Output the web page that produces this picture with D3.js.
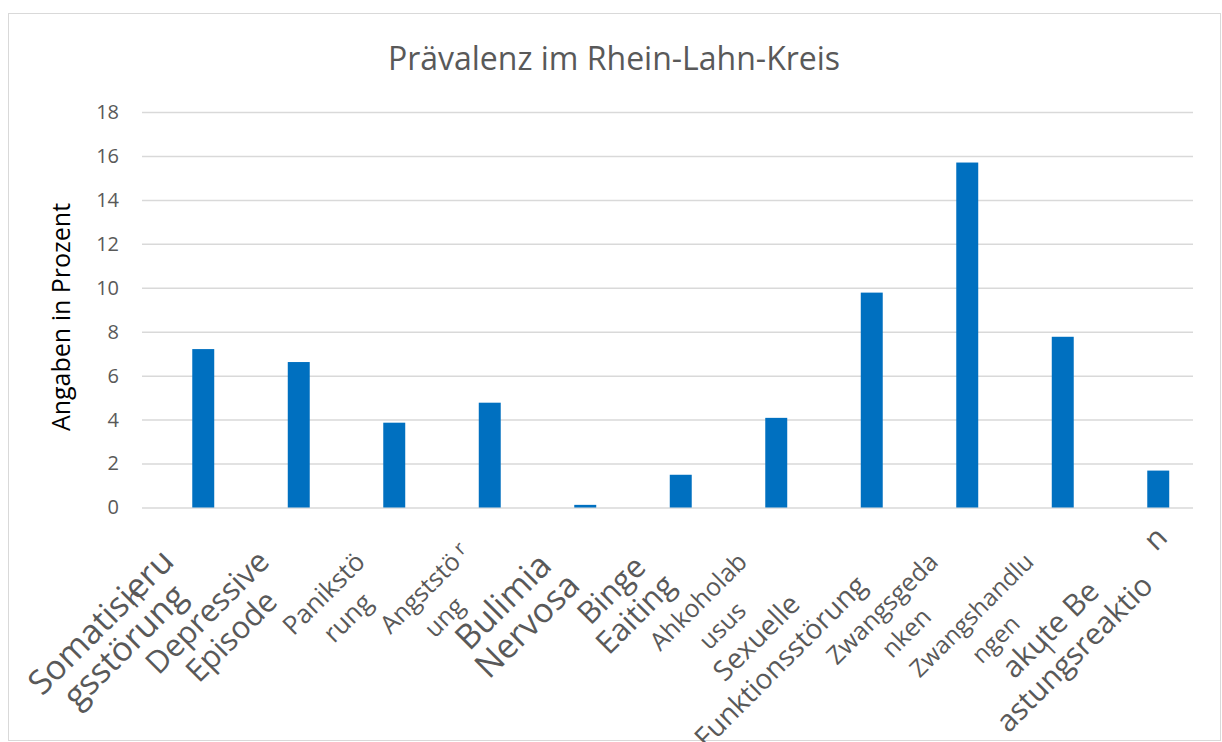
<!DOCTYPE html>
<html>
<head>
<meta charset="utf-8">
<script src="https://cdn.jsdelivr.net/npm/d3@7/dist/d3.min.js"></script>
<style>
  body { margin: 0; background: #fff; }
  text { font-family: "Open Sans", sans-serif; }
</style>
</head>
<body>
<div id="chart"></div>
<script>
// Kategorien (so wie sie im Original umbrochen dargestellt sind)
const categories = [
  "Somatisierungsstörung", "Depressive Episode", "Panikstörung", "Angststörung",
  "Bulimia Nervosa", "Binge Eaiting", "Ahkoholabusus", "Sexuelle Funktionsstörung",
  "Zwangsgedanken", "Zwangshandlungen", "akute Belastungsreaktion"
];
const labelLines = [
  ["Somatisieru", "gsstörung"],
  ["Depressive", "Episode"],
  ["Panikstö", "rung"],
  ["Angststö", "ung"],
  ["Bulimia", "Nervosa"],
  ["Binge", "Eaiting"],
  ["Ahkoholab", "usus"],
  ["Sexuelle", "Funktionsstörung"],
  ["Zwangsgeda", "nken"],
  ["Zwangshandlu", "ngen"],
  ["akute Be", "astungsreaktio"]
];
const values = [7.21, 6.62, 3.86, 4.77, 0.12, 1.49, 4.08, 9.78, 15.7, 7.77, 1.68];
const yTicks = [0, 2, 4, 6, 8, 10, 12, 14, 16, 18];
const title = "Prävalenz im Rhein-Lahn-Kreis";
const yTitle = "Angaben in Prozent";

const W = 1222, H = 742;
const gridLeft = 142, gridRight = 1193;
const barLeft = 155.5, barRight = 1206;
const yTop = 112, yBottom = 507.5;

// Schriftgrößen der x-Beschriftungen schwanken im Original stark
const labelSizes = [34, 31, 26, 25, 34, 31, 25, 28, 25, 24, 30];
const lineGap = 34;

const svg = d3.select("#chart").append("svg")
  .attr("width", W)
  .attr("height", H);

svg.append("rect")
  .attr("x", 8.5).attr("y", 13.5)
  .attr("width", 1212).attr("height", 727)
  .attr("fill", "#fff")
  .attr("stroke", "#d9d9d9")
  .attr("stroke-width", 1);

const y = d3.scaleLinear().domain([0, 18]).range([yBottom, yTop]);
const x = d3.scaleBand()
  .domain(categories)
  .range([barLeft, barRight])
  .paddingInner(0.77)
  .paddingOuter(0.385);

// y-Achse mit Gitterlinien
const yAxis = svg.append("g")
  .attr("transform", `translate(${gridLeft},0)`)
  .call(d3.axisLeft(y).tickValues(yTicks).tickSize(-(gridRight - gridLeft)).tickPadding(23));
yAxis.select(".domain").remove();
yAxis.selectAll(".tick line")
  .attr("stroke", "#d9d9d9")
  .attr("stroke-width", 1.5);
yAxis.selectAll(".tick text")
  .style("font-size", "20px")
  .style("font-family", "Open Sans")
  .attr("fill", "#595959");

// Balken
svg.selectAll(".bar")
  .data(values)
  .enter()
  .append("rect")
  .attr("class", "bar")
  .attr("x", (d, i) => x(categories[i]))
  .attr("y", d => y(d))
  .attr("width", x.bandwidth())
  .attr("height", d => y(0) - y(d))
  .attr("fill", "#0070c0");

// Titel
svg.append("text")
  .attr("x", 614)
  .attr("y", 70)
  .attr("text-anchor", "middle")
  .style("font-size", "32px")
  .attr("fill", "#595959")
  .text(title);

// y-Achsentitel
svg.append("text")
  .attr("transform", `translate(70,317) rotate(-90)`)
  .attr("text-anchor", "middle")
  .style("font-size", "25px")
  .attr("fill", "#000")
  .text(yTitle);

// x-Beschriftungen: -45° gedreht, zentriert umbrochen
const quirks = {
  0: [{ t: "n", x: -112, y: 24, s: 0.75 }],
  3: [{ t: "r", x: -50, y: 14, s: 0.8 }],
  10: [{ t: "l", x: -176, y: 30, s: 0.7 }, { t: "n", x: -24, y: 30, s: 1 }]
};

categories.forEach((c, i) => {
  const fs = labelSizes[i];
  const g = svg.append("g")
    .attr("class", "xlabel")
    .attr("transform", `translate(${x(c) + x.bandwidth() / 2},${yBottom}) rotate(-45)`);
  const texts = labelLines[i].map((line, k) => g.append("text")
    .attr("y", 20 + k * lineGap)
    .attr("text-anchor", "middle")
    .style("font-size", fs + "px")
    .attr("fill", "#595959")
    .text(line));
  const widest = d3.max(texts, t => t.node().getComputedTextLength());
  texts.forEach(t => t.attr("x", -59 - widest / 2));
  (quirks[i] || []).forEach(q => {
    g.append("text")
      .attr("x", q.x).attr("y", q.y)
      .attr("text-anchor", "middle")
      .style("font-size", (fs * q.s) + "px")
      .attr("fill", "#595959")
      .text(q.t);
  });
});
</script>
</body>
</html>
